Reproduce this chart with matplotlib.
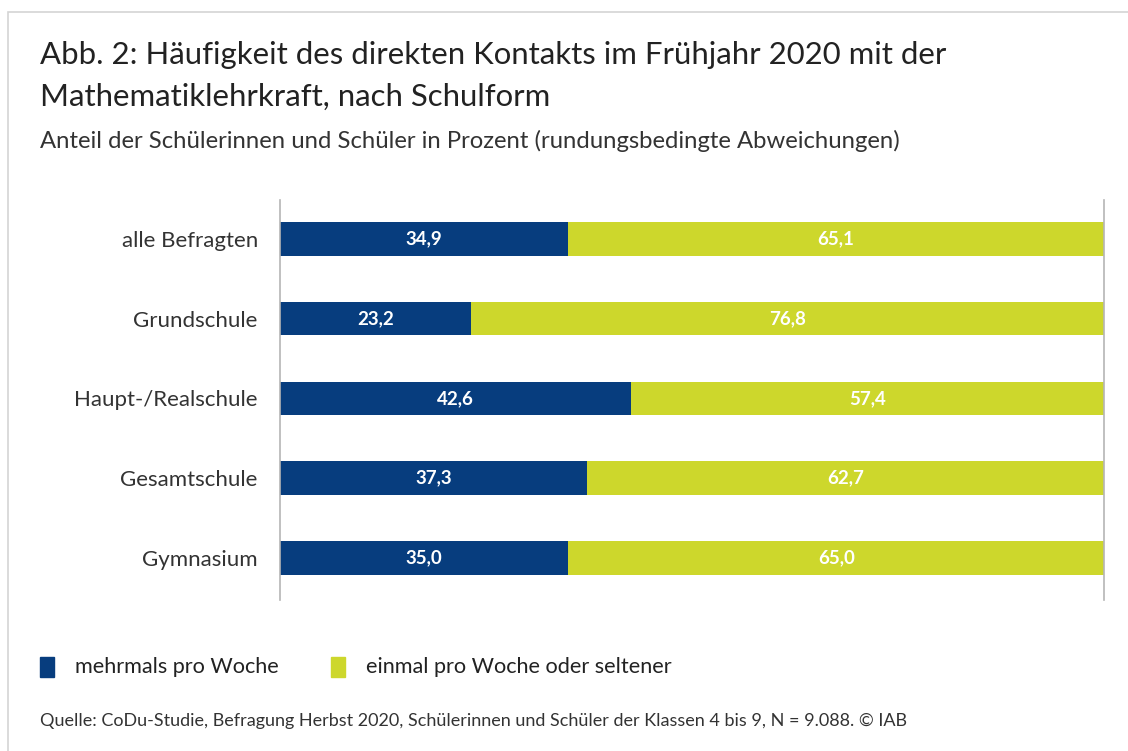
import matplotlib.pyplot as plt
from matplotlib.patches import Rectangle

schulform = ['alle Befragten', 'Grundschule', 'Haupt-/Realschule', 'Gesamtschule', 'Gymnasium']
mehrmals = [34.9, 23.2, 42.6, 37.3, 35.0]
einmal = [65.1, 76.8, 57.4, 62.7, 65.0]
legend_labels = ['mehrmals pro Woche', 'einmal pro Woche oder seltener']

navy = '#073d7e'
lime = '#cdd72c'
plt.rcParams['font.family'] = ['Lato', 'DejaVu Sans']

fig = plt.figure(figsize=(11.28, 7.51), dpi=100)
W, H = 1128, 751

# card border (top and left edges)
fig.patches.append(Rectangle((8 / W, -0.1), 1.2, (H - 12) / H + 0.1, transform=fig.transFigure,
                             fill=False, edgecolor='#d4d4d4', linewidth=1.2))

ax = fig.add_axes([280 / W, 1 - 600 / H, 824 / W, 400 / H])
y = range(len(schulform))
ax.barh(y, mehrmals, height=0.42, color=navy)
ax.barh(y, einmal, left=mehrmals, height=0.42, color=lime)

for i in y:
    ax.text(mehrmals[i] / 2, i, f'{mehrmals[i]:.1f}'.replace('.', ','), ha='center', va='center',
            color='white', fontsize=13.5, fontweight='bold')
    ax.text(mehrmals[i] + einmal[i] / 2, i, f'{einmal[i]:.1f}'.replace('.', ','), ha='center', va='center',
            color='white', fontsize=13.5, fontweight='bold')

ax.set_xlim(0, 100)
ax.set_ylim(4.53, -0.49)
ax.set_yticks(list(y))
ax.set_yticklabels(schulform, fontsize=16, color='#333333')
ax.tick_params(axis='y', length=0, pad=16)
ax.set_xticks([])
for s in ['top', 'bottom']:
    ax.spines[s].set_visible(False)
for s in ['left', 'right']:
    ax.spines[s].set_color('#b5b5b5')
    ax.spines[s].set_linewidth(1.2)

fig.text(40 / W, 1 - 55 / H, 'Abb. 2: Häufigkeit des direkten Kontakts im Frühjahr 2020 mit der',
         fontsize=22.4, color='#222222', va='center')
fig.text(40 / W, 1 - 97 / H, 'Mathematiklehrkraft, nach Schulform',
         fontsize=22.4, color='#222222', va='center')
fig.text(40 / W, 1 - 141 / H, 'Anteil der Schülerinnen und Schüler in Prozent (rundungsbedingte Abweichungen)',
         fontsize=17.2, color='#333333', va='center')

# legend
for x0, col, lab in [(40, navy, legend_labels[0]), (331, lime, legend_labels[1])]:
    fig.patches.append(Rectangle((x0 / W, 1 - 677 / H), 14 / W, 20 / H, transform=fig.transFigure,
                                 color=col))
    fig.text((x0 + 35) / W, 1 - 667 / H, lab, fontsize=15.6, color='#222222', va='center')

fig.text(40 / W, 1 - 721 / H,
         'Quelle: CoDu-Studie, Befragung Herbst 2020, Schülerinnen und Schüler der Klassen 4 bis 9, N = 9.088. © IAB',
         fontsize=13, color='#333333', va='center')

fig.savefig('out.png', dpi=100)
